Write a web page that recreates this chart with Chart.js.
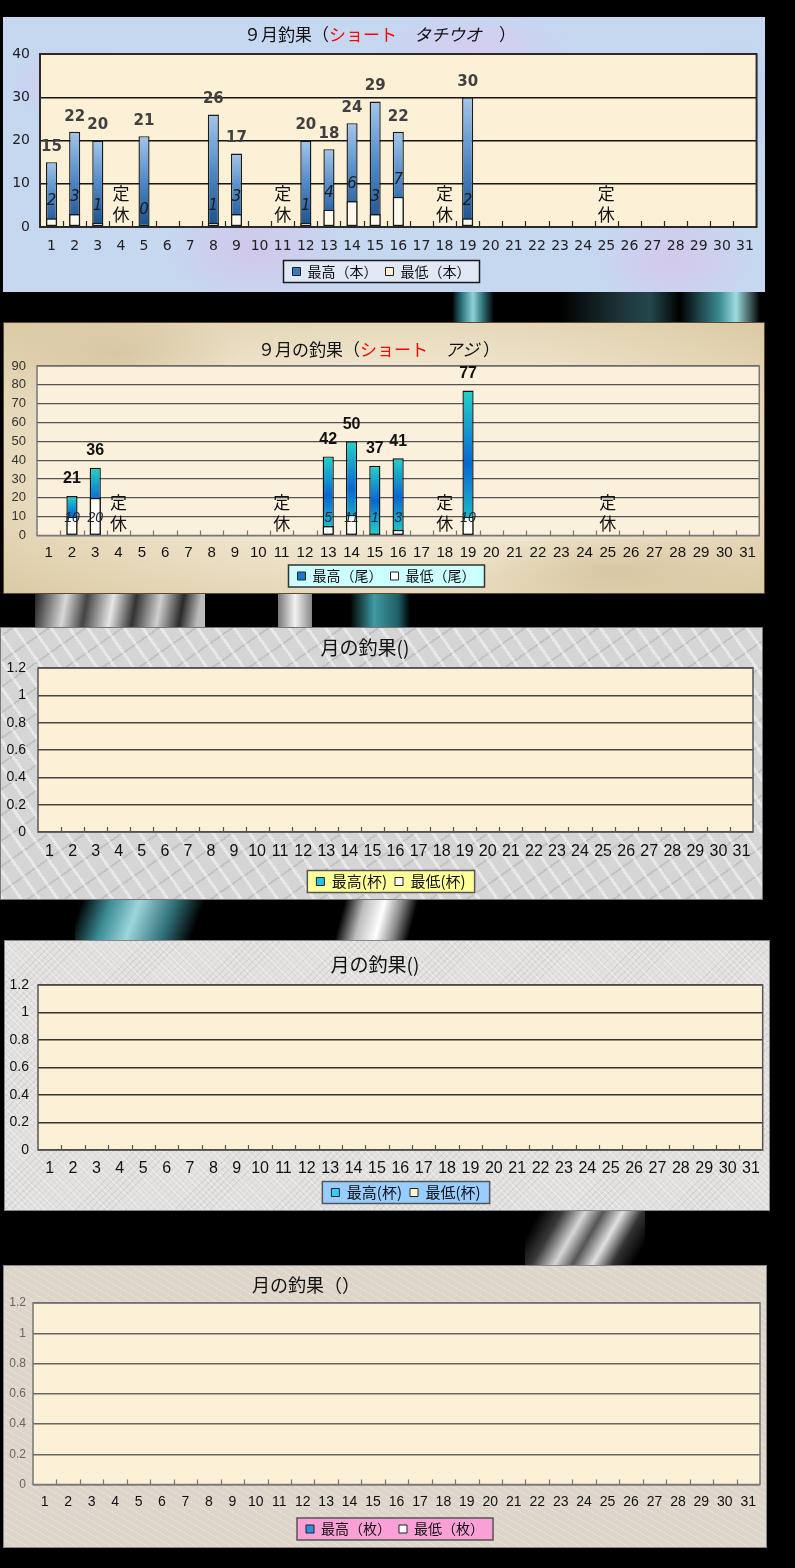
<!DOCTYPE html>
<html>
<head>
<meta charset="utf-8">
<script src="https://cdn.jsdelivr.net/npm/chart.js"></script>
<style>
html, body { margin: 0; padding: 0; background: #000; }
body { width: 795px; height: 1568px; position: relative; overflow: hidden; }
.deco { position: absolute; }
.panel { position: absolute; box-sizing: border-box; }
.panel canvas { position: absolute; left: 0; top: 0; }
#p1 { left: 3px; top: 17px; width: 762px; height: 275px;
  background:
    radial-gradient(ellipse 70px 40px at 10% 25%, rgba(222,192,236,.65), transparent),
    radial-gradient(ellipse 90px 50px at 33% 85%, rgba(218,188,232,.6), transparent),
    radial-gradient(ellipse 100px 40px at 62% 12%, rgba(226,196,238,.55), transparent),
    radial-gradient(ellipse 80px 50px at 88% 88%, rgba(222,190,232,.6), transparent),
    radial-gradient(ellipse 60px 60px at 96% 30%, rgba(175,205,245,.6), transparent),
    radial-gradient(ellipse 120px 60px at 50% 55%, rgba(172,202,246,.5), transparent),
    #c6d7f0; }
#p2 { left: 3px; top: 322px; width: 762px; height: 272px; border: 1px solid #5a4a30;
  background:
    radial-gradient(ellipse 120px 50px at 15% 12%, rgba(200,180,140,.45), transparent),
    radial-gradient(ellipse 140px 40px at 80% 92%, rgba(200,178,135,.45), transparent),
    radial-gradient(ellipse at 50% 50%, #f0e6cf 45%, #dccaa4 100%); }
#p3 { left: 0; top: 627px; width: 763px; height: 273px; border: 1px solid #777;
  background:
    repeating-linear-gradient(55deg, rgba(255,255,255,.45) 0 3px, transparent 3px 15px),
    repeating-linear-gradient(-35deg, rgba(110,110,110,.18) 0 2px, transparent 2px 21px),
    #d5d5d5; }
#p4 { left: 4px; top: 940px; width: 766px; height: 271px; border: 1px solid #888;
  background:
    repeating-linear-gradient(45deg, rgba(255,255,255,.35) 0 1px, transparent 1px 4px),
    repeating-linear-gradient(-45deg, rgba(150,150,150,.18) 0 1px, transparent 1px 5px),
    #e1e0de; }
#p5 { left: 3px; top: 1265px; width: 764px; height: 283px; border: 1px solid #888;
  background:
    repeating-linear-gradient(30deg, rgba(255,255,255,.25) 0 1px, transparent 1px 6px),
    #ddd5c9; }
</style>
</head>
<body>

<div class="deco" style="left:452px;top:292px;width:42px;height:30px;background:linear-gradient(90deg,transparent,#2f7c86 25%,#8fd2d6 50%,#2a6a72 75%,transparent)"></div>
<div class="deco" style="left:560px;top:292px;width:200px;height:30px;background:linear-gradient(90deg,transparent,#1d3438 30%,#24484d 45%,transparent 60%,#3c8d94 80%,#9fdde0 88%,transparent)"></div>
<div class="deco" style="left:35px;top:594px;width:170px;height:33px;background:linear-gradient(100deg,#222,#d8d8d8 18%,#444 30%,#e6e6e6 45%,#333 58%,#cfcfcf 72%,#2a2a2a 85%,#bbb 95%)"></div>
<div class="deco" style="left:278px;top:594px;width:34px;height:33px;background:linear-gradient(90deg,#777,#f2f2f2 50%,#888)"></div>
<div class="deco" style="left:350px;top:594px;width:60px;height:33px;background:linear-gradient(90deg,transparent,#3e9aa2 40%,#206068 80%,transparent)"></div>
<div class="deco" style="left:75px;top:900px;width:130px;height:40px;background:linear-gradient(110deg,transparent 5%,#3a8c95 25%,#9cd6da 45%,#2f6f78 70%,transparent 90%)"></div>
<div class="deco" style="left:330px;top:900px;width:90px;height:40px;background:linear-gradient(105deg,transparent 15%,#bdbdbd 35%,#ffffff 55%,#8a8a8a 72%,transparent 88%)"></div>
<div class="deco" style="left:525px;top:1211px;width:120px;height:54px;background:linear-gradient(120deg,transparent 10%,#3a3a3a 25%,#d6d6d6 40%,#555 52%,#e0e0e0 65%,#333 78%,transparent 92%)"></div>

<div class="panel" id="p1"><canvas id="c1" width="762" height="275"></canvas></div>
<div class="panel" id="p2"><canvas id="c2" width="760" height="270"></canvas></div>
<div class="panel" id="p3"><canvas id="c3" width="761" height="271"></canvas></div>
<div class="panel" id="p4"><canvas id="c4" width="764" height="269"></canvas></div>
<div class="panel" id="p5"><canvas id="c5" width="762" height="281"></canvas></div>

<script>
// days of September
const dayLabels = ['1','2','3','4','5','6','7','8','9','10','11','12','13','14','15','16',
  '17','18','19','20','21','22','23','24','25','26','27','28','29','30','31'];
// shop closed days
const closedDays = ['4','11','18','25'];

// タチウオ (本)
const tachiuoHigh = [15,22,20,null,21,null,null,26,17,null,null,20,18,24,29,22,null,null,30,
  null,null,null,null,null,null,null,null,null,null,null,null];
const tachiuoLow = [2,3,1,null,0,null,null,1,3,null,null,1,4,6,3,7,null,null,2,
  null,null,null,null,null,null,null,null,null,null,null,null];
const tachiuoTicks = [0,10,20,30,40];

// アジ (尾)
const ajiHigh = [null,21,36,null,null,null,null,null,null,null,null,null,42,50,37,41,null,null,77,
  null,null,null,null,null,null,null,null,null,null,null,null];
const ajiLow = [null,10,20,null,null,null,null,null,null,null,null,null,5,11,1,3,null,null,10,
  null,null,null,null,null,null,null,null,null,null,null,null];
const ajiTicks = [0,10,20,30,40,50,60,70,80,90];

// empty months
const emptyHigh = [];
const emptyLow = [];
const emptyTicks = [0,0.2,0.4,0.6,0.8,1,1.2];

function barFill(stops, fallback) {
    return function (c) {
        if (c.type !== 'data' || c.raw == null) return fallback;
        const chart = c.chart;
        if (!chart.chartArea) return fallback;
        const ys = chart.scales.y;
        const top = ys.getPixelForValue(c.raw), bot = ys.getPixelForValue(0);
        if (Math.abs(bot - top) < 1) return fallback;
        const g = chart.ctx.createLinearGradient(0, top, 0, bot);
        stops.forEach(s => g.addColorStop(s[0], s[1]));
        return g;
    };
}

const fishDecor = {
    id: 'fishDecor',
    afterLayout(chart, args, o) {
        const lg = chart.legend;
        if (lg && o.legendShift) { lg.left += o.legendShift; lg.right += o.legendShift; }
    },
    beforeDraw(chart, args, o) {
        const {ctx, chartArea: a} = chart;
        ctx.save();
        ctx.fillStyle = o.plotFill;
        ctx.fillRect(a.left, a.top, a.width, a.height);
        const lg = chart.legend;
        if (lg && lg.lineWidths) {
            const pad = lg.options.labels.padding;
            const fs = lg.options.labels.font.size;
            const w = lg.lineWidths[0] - pad + 18;
            const h = 22;
            const cx = (lg.left + lg.right) / 2;
            const cy = lg.top + pad + fs / 2;
            ctx.fillStyle = o.legendFrame.fill;
            ctx.fillRect(cx - w / 2, cy - h / 2, w, h);
            ctx.strokeStyle = o.legendFrame.stroke;
            ctx.lineWidth = 1.5;
            ctx.strokeRect(cx - w / 2, cy - h / 2, w, h);
        }
        ctx.restore();
    },
    afterDatasetsDraw(chart, args, o) {
        const {ctx, chartArea: a} = chart;
        const xs = chart.scales.x;
        ctx.save();
        // plot frame
        ctx.strokeStyle = o.frame.color;
        ctx.lineWidth = o.frame.width;
        ctx.strokeRect(a.left, a.top, a.width, a.height);
        // tick marks between days, pointing up
        const n = dayLabels.length, step = xs.width / n;
        ctx.lineWidth = 1.2;
        ctx.beginPath();
        for (let i = 1; i < n; i++) {
            const x = Math.round(xs.left + i * step) + 0.5;
            ctx.moveTo(x, a.bottom);
            ctx.lineTo(x, a.bottom - o.tickLen);
        }
        ctx.stroke();

        ctx.textAlign = 'center';
        ctx.textBaseline = 'middle';
        const hi = chart.data.datasets[0].data, lo = chart.data.datasets[1].data;
        const hiMeta = chart.getDatasetMeta(0), loMeta = chart.getDatasetMeta(1);
        // max values over bars
        ctx.font = o.highLabel.font;
        ctx.fillStyle = o.highLabel.color;
        hi.forEach((v, i) => {
            if (v == null) return;
            const el = hiMeta.data[i];
            ctx.fillText(String(v), el.x, el.y - o.highLabel.gap);
        });
        // min values
        ctx.font = o.lowLabel.font;
        ctx.fillStyle = o.lowLabel.color;
        lo.forEach((v, i) => {
            if (v == null) return;
            const el = loMeta.data[i];
            const y = o.lowLabel.fixed ? a.bottom - o.lowLabel.gap : el.y - o.lowLabel.gap;
            ctx.fillText(String(v), el.x, y);
        });
        // closed days
        if (o.closed) {
            ctx.font = o.closed.font;
            ctx.fillStyle = o.closed.color;
            closedDays.forEach(d => {
                const x = xs.getPixelForValue(dayLabels.indexOf(d));
                ctx.fillText('定', x, a.bottom - 33);
                ctx.fillText('休', x, a.bottom - 12);
            });
        }
        ctx.restore();
    },
    afterDraw(chart, args, o) {
        const ctx = chart.ctx, t = o.title;
        ctx.save();
        ctx.textBaseline = 'middle';
        ctx.textAlign = 'left';
        let total = 0;
        t.parts.forEach(p => {
            ctx.font = (p.italic ? 'italic ' : '') + t.font;
            total += ctx.measureText(p.text).width;
        });
        let x = t.x - total / 2;
        t.parts.forEach(p => {
            ctx.font = (p.italic ? 'italic ' : '') + t.font;
            ctx.fillStyle = p.color || '#111';
            ctx.fillText(p.text, x, t.y);
            x += ctx.measureText(p.text).width;
        });
        ctx.restore();
    }
};

function makeChart(id, s) {
    return new Chart(document.getElementById(id), {
        type: 'bar',
        data: {
            labels: dayLabels,
            datasets: [
                {
                    label: s.names[0], data: s.high, order: 1,
                    backgroundColor: barFill(s.highStops, s.legendColors[0]),
                    borderColor: s.barBorder, borderWidth: 1.4, borderSkipped: false,
                    barPercentage: 0.48, categoryPercentage: 1,
                    legendColor: s.legendColors[0]
                },
                {
                    label: s.names[1], data: s.low, order: 0,
                    backgroundColor: s.lowFill,
                    borderColor: s.barBorder, borderWidth: 1.4, borderSkipped: false,
                    barPercentage: 0.48, categoryPercentage: 1,
                    legendColor: s.legendColors[1]
                }
            ]
        },
        options: {
            responsive: false,
            animation: false,
            layout: { padding: s.pad },
            scales: {
                x: {
                    stacked: true,
                    grid: { display: false, drawTicks: false },
                    border: { display: false },
                    ticks: { autoSkip: false, maxRotation: 0, padding: s.xPad, color: s.xColor, font: s.xFont },
                    afterFit: sc => { sc.height = s.xHeight; }
                },
                y: {
                    stacked: false,
                    min: s.ticks[0],
                    max: s.ticks[s.ticks.length - 1],
                    afterBuildTicks: sc => { sc.ticks = s.ticks.map(v => ({ value: v })); },
                    grid: { color: s.grid.color, lineWidth: s.grid.width, drawTicks: false },
                    border: { display: false },
                    ticks: { padding: s.yPad, color: s.yColor, font: s.yFont, callback: v => String(v) },
                    afterFit: sc => { sc.width = s.yWidth; }
                }
            },
            plugins: {
                title: { display: false },
                tooltip: { enabled: false },
                legend: {
                    position: 'bottom',
                    labels: {
                        boxWidth: 8, boxHeight: 8, padding: 8, color: '#111', font: s.legendFont,
                        sort: (a, b) => a.datasetIndex - b.datasetIndex,
                        generateLabels: chart => {
                            const items = Chart.defaults.plugins.legend.labels.generateLabels(chart);
                            items.forEach(it => {
                                it.fillStyle = chart.data.datasets[it.datasetIndex].legendColor;
                                it.strokeStyle = '#222';
                                it.lineWidth = 1;
                            });
                            return items;
                        }
                    }
                },
                fishDecor: {
                    plotFill: s.plotFill,
                    frame: s.frame,
                    tickLen: s.tickLen,
                    legendShift: s.legendShift,
                    legendFrame: s.legendFrame,
                    title: s.title,
                    highLabel: s.highLabel || {},
                    lowLabel: s.lowLabel || {},
                    closed: s.closed || null
                }
            }
        },
        plugins: [fishDecor]
    });
}

const noLabel = { font: '12px sans-serif', color: '#000', gap: 0 };

makeChart('c1', {
    high: tachiuoHigh, low: tachiuoLow, ticks: tachiuoTicks,
    names: ['最高（本）', '最低（本）'],
    pad: { top: 37, right: 5, bottom: 3.5, left: 0 },
    yWidth: 37, xHeight: 29.5, xPad: 11, yPad: 10,
    xFont: { family: '"DejaVu Sans"', size: 14 }, xColor: '#222',
    yFont: { family: '"DejaVu Sans"', size: 14 }, yColor: '#222',
    grid: { color: '#151515', width: 1.5 }, frame: { color: '#2a2a2a', width: 2 }, tickLen: 6,
    highStops: [[0, '#a3c6ea'], [0.5, '#5089c8'], [1, '#1a4f8c']],
    lowFill: '#fff9ec', barBorder: '#1a1a1a',
    legendColors: ['#3f78b9', '#fff2cc'],
    legendFont: { family: '"Noto Sans CJK JP"', size: 14 },
    legendFrame: { fill: '#dfe8f4', stroke: '#1a1a1a' }, legendShift: 0,
    plotFill: '#fcf0d6',
    title: { x: 377, y: 18, font: '17px "Noto Sans CJK JP"', parts: [
        { text: '９月釣果（' }, { text: 'ショート', color: '#ff0000' }, { text: '　' },
        { text: 'タチウオ', italic: true }, { text: '　）' }] },
    highLabel: { font: 'bold 15px "DejaVu Sans"', color: '#404040', gap: 15 },
    lowLabel: { font: 'italic 15px "DejaVu Sans"', color: '#1b1b1b', gap: 17, fixed: false },
    closed: { font: '17px "Noto Sans CJK JP"', color: '#111' }
});

makeChart('c2', {
    high: ajiHigh, low: ajiLow, ticks: ajiTicks,
    names: ['最高（尾）', '最低（尾）'],
    pad: { top: 43, right: 3, bottom: 0, left: 0 },
    yWidth: 33, xHeight: 25.5, xPad: 8, yPad: 11,
    xFont: { family: '"Liberation Sans"', size: 15 }, xColor: '#111',
    yFont: { family: '"Liberation Sans"', size: 13 }, yColor: '#333',
    grid: { color: '#555', width: 1.2 }, frame: { color: '#777', width: 1.5 }, tickLen: 5,
    highStops: [[0, '#22d3c8'], [0.5, '#0a66d2'], [1, '#22d3c8']],
    lowFill: '#fffdf6', barBorder: '#111',
    legendColors: ['#1a78d0', '#ffffff'],
    legendFont: { family: '"Noto Sans CJK JP"', size: 14 },
    legendFrame: { fill: '#ccffff', stroke: '#333' }, legendShift: 4,
    plotFill: '#faf0dc',
    title: { x: 375, y: 27, font: '17px "Noto Sans CJK JP"', parts: [
        { text: '９月の釣果（' }, { text: 'ショート', color: '#ff0000' }, { text: '　' },
        { text: 'アジ', italic: true }, { text: ' ）' }] },
    highLabel: { font: 'bold 16px "Liberation Sans"', color: '#111', gap: 17 },
    lowLabel: { font: 'italic 14px "Liberation Sans"', color: '#1b2633', gap: 17, fixed: true },
    closed: { font: '17px "Noto Sans CJK JP"', color: '#111' }
});

makeChart('c3', {
    high: emptyHigh, low: emptyLow, ticks: emptyTicks,
    names: ['最高(杯)', '最低(杯)'],
    pad: { top: 40, right: 9, bottom: 0, left: 0 },
    yWidth: 37, xHeight: 34, xPad: 10, yPad: 12,
    xFont: { family: '"Liberation Sans Narrow", "Liberation Sans"', size: 16 }, xColor: '#111',
    yFont: { family: '"Liberation Sans Narrow", "Liberation Sans"', size: 14 }, yColor: '#111',
    grid: { color: '#444', width: 1.5 }, frame: { color: '#555', width: 1.5 }, tickLen: 5,
    highStops: [[0, '#33ccee'], [1, '#1177cc']],
    lowFill: '#ffffff', barBorder: '#111',
    legendColors: ['#22c4ee', '#ffffff'],
    legendFont: { family: '"Liberation Sans Narrow", "Noto Sans CJK JP"', size: 15 },
    legendFrame: { fill: '#ffff99', stroke: '#555' }, legendShift: 14,
    plotFill: '#fcf0d6',
    title: { x: 364, y: 20, font: '19px "Liberation Sans Narrow", "Noto Sans CJK JP"', parts: [
        { text: '月の釣果()' }] },
    highLabel: noLabel, lowLabel: noLabel
});

makeChart('c4', {
    high: emptyHigh, low: emptyLow, ticks: emptyTicks,
    names: ['最高(杯)', '最低(杯)'],
    pad: { top: 44, right: 6, bottom: 0, left: 0 },
    yWidth: 33, xHeight: 27, xPad: 9, yPad: 9,
    xFont: { family: '"Liberation Sans Narrow", "Liberation Sans"', size: 16 }, xColor: '#111',
    yFont: { family: '"Liberation Sans Narrow", "Liberation Sans"', size: 14 }, yColor: '#111',
    grid: { color: '#333', width: 1.5 }, frame: { color: '#555', width: 1.5 }, tickLen: 5,
    highStops: [[0, '#33ccee'], [1, '#1177cc']],
    lowFill: '#ffffff', barBorder: '#111',
    legendColors: ['#33ccff', '#ffffcc'],
    legendFont: { family: '"Liberation Sans Narrow", "Noto Sans CJK JP"', size: 15 },
    legendFrame: { fill: '#99ccff', stroke: '#555' }, legendShift: 22,
    plotFill: '#fcf0d6',
    title: { x: 370, y: 24, font: '19px "Liberation Sans Narrow", "Noto Sans CJK JP"', parts: [
        { text: '月の釣果()' }] },
    highLabel: noLabel, lowLabel: noLabel
});

makeChart('c5', {
    high: emptyHigh, low: emptyLow, ticks: emptyTicks,
    names: ['最高（枚）', '最低（枚）'],
    pad: { top: 37, right: 6, bottom: 1, left: 0 },
    yWidth: 29, xHeight: 29.5, xPad: 9, yPad: 7,
    xFont: { family: '"Liberation Sans"', size: 14 }, xColor: '#111',
    yFont: { family: '"Liberation Sans"', size: 12 }, yColor: '#666',
    grid: { color: '#666', width: 1.5 }, frame: { color: '#777', width: 1.5 }, tickLen: 5,
    highStops: [[0, '#3399dd'], [1, '#1166aa']],
    lowFill: '#ffffff', barBorder: '#111',
    legendColors: ['#2f8fdc', '#ffffff'],
    legendFont: { family: '"Noto Sans CJK JP"', size: 14 },
    legendFrame: { fill: '#f9a0d6', stroke: '#555' }, legendShift: 13,
    plotFill: '#fcf0d6',
    title: { x: 302, y: 19, font: '18px "Noto Sans CJK JP"', parts: [
        { text: '月の釣果（）' }] },
    highLabel: noLabel, lowLabel: noLabel
});
</script>
</body>
</html>
